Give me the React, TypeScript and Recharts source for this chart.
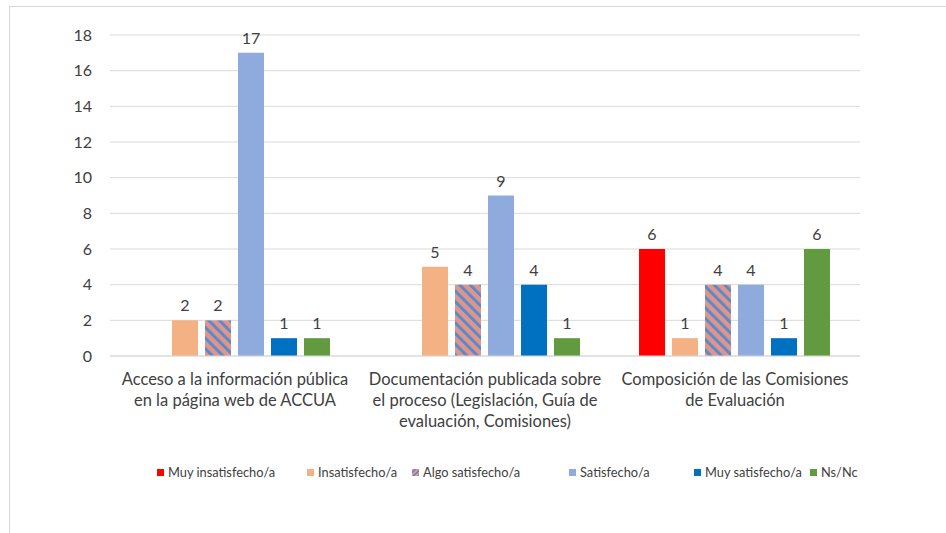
import { BarChart, Bar, XAxis, YAxis, CartesianGrid, LabelList } from "recharts";

const categories = [
  "Acceso a la información pública\nen la página web de ACCUA",
  "Documentación publicada sobre\nel proceso (Legislación, Guía de\nevaluación, Comisiones)",
  "Composición de las Comisiones\nde Evaluación",
];

const muyInsatisfecho = [0, 0, 6];
const insatisfecho = [2, 5, 1];
const algoSatisfecho = [2, 4, 4];
const satisfecho = [17, 9, 4];
const muySatisfecho = [1, 4, 1];
const nsNc = [1, 1, 6];

const yTicks = [0, 2, 4, 6, 8, 10, 12, 14, 16, 18];

const series = [
  { key: "muyInsatisfecho", name: "Muy insatisfecho/a", color: "#FF0000", values: muyInsatisfecho },
  { key: "insatisfecho", name: "Insatisfecho/a", color: "#F4B183", values: insatisfecho },
  { key: "algoSatisfecho", name: "Algo satisfecho/a", color: "url(#hatch)", values: algoSatisfecho },
  { key: "satisfecho", name: "Satisfecho/a", color: "#8FAADC", values: satisfecho },
  { key: "muySatisfecho", name: "Muy satisfecho/a", color: "#0070C0", values: muySatisfecho },
  { key: "nsNc", name: "Ns/Nc", color: "#629B3F", values: nsNc },
];

const data = categories.map((c, i) => {
  const row: Record<string, string | number> = { category: c };
  series.forEach(s => { row[s.key] = s.values[i]; });
  return row;
});

const FONT = "Lato, 'Liberation Sans', sans-serif";
const TEXT = "#404040";

function CategoryTick(props: any) {
  const { x, y, payload } = props;
  const lines = String(payload.value).split("\n");
  return (
    <text x={x} y={y} textAnchor="middle" fill={TEXT} fontSize={16.5} fontFamily={FONT}>
      {lines.map((l, i) => (
        <tspan key={i} x={x} dy={i === 0 ? 21 : 21}>{l}</tspan>
      ))}
    </text>
  );
}

const legendWidths = [150, 105, 157, 125, 116, 60];

export default function App() {
  return (
    <div style={{ position: "absolute", left: 9, top: 6, width: 960, height: 540, border: "1px solid #d9d9d9", background: "#fff" }}>
      <BarChart
        width={930}
        height={520}
        data={data}
        margin={{ top: 28, right: 80, bottom: 91, left: 40 }}
        barCategoryGap="11.6%"
        barGap={7}
      >
        <defs>
          <pattern id="hatch" width="7.5" height="7.5" patternUnits="userSpaceOnUse" patternTransform="rotate(-45)">
            <rect width="7.5" height="7.5" fill="#E0958C" />
            <rect width="3" height="7.5" fill="#5B8AC8" />
          </pattern>
        </defs>
        <CartesianGrid vertical={false} stroke="#d9d9d9" />
        <XAxis
          dataKey="category"
          tick={<CategoryTick />}
          tickLine={false}
          axisLine={{ stroke: "#d9d9d9" }}
          interval={0}
          height={80}
        />
        <YAxis
          domain={[0, 18]}
          ticks={yTicks}
          axisLine={false}
          tickLine={false}
          tickMargin={12}
          width={60}
          tick={{ fill: TEXT, fontSize: 16, fontFamily: FONT }}
        />
        {series.map(s => (
          <Bar key={s.key} dataKey={s.key} name={s.name} fill={s.color} isAnimationActive={false}>
            <LabelList
              dataKey={s.key}
              position="top"
              offset={9}
              fill={TEXT}
              fontSize={16}
              fontFamily={FONT}
              formatter={(v: any) => (v === 0 ? "" : v)}
            />
          </Bar>
        ))}
      </BarChart>
      <div style={{ position: "absolute", left: 147, top: 457, display: "flex", fontFamily: FONT, fontSize: 12.8, color: TEXT }}>
        {series.map((s, i) => (
          <div key={s.key} style={{ width: legendWidths[i], display: "flex", alignItems: "center", whiteSpace: "nowrap" }}>
            <span
              style={{
                display: "inline-block",
                width: 7,
                height: 7,
                marginRight: 4,
                background: s.key === "algoSatisfecho"
                  ? "repeating-linear-gradient(135deg, #E0958C 0 2px, #5B8AC8 2px 3.5px)"
                  : s.color,
              }}
            />
            {s.name}
          </div>
        ))}
      </div>
    </div>
  );
}
